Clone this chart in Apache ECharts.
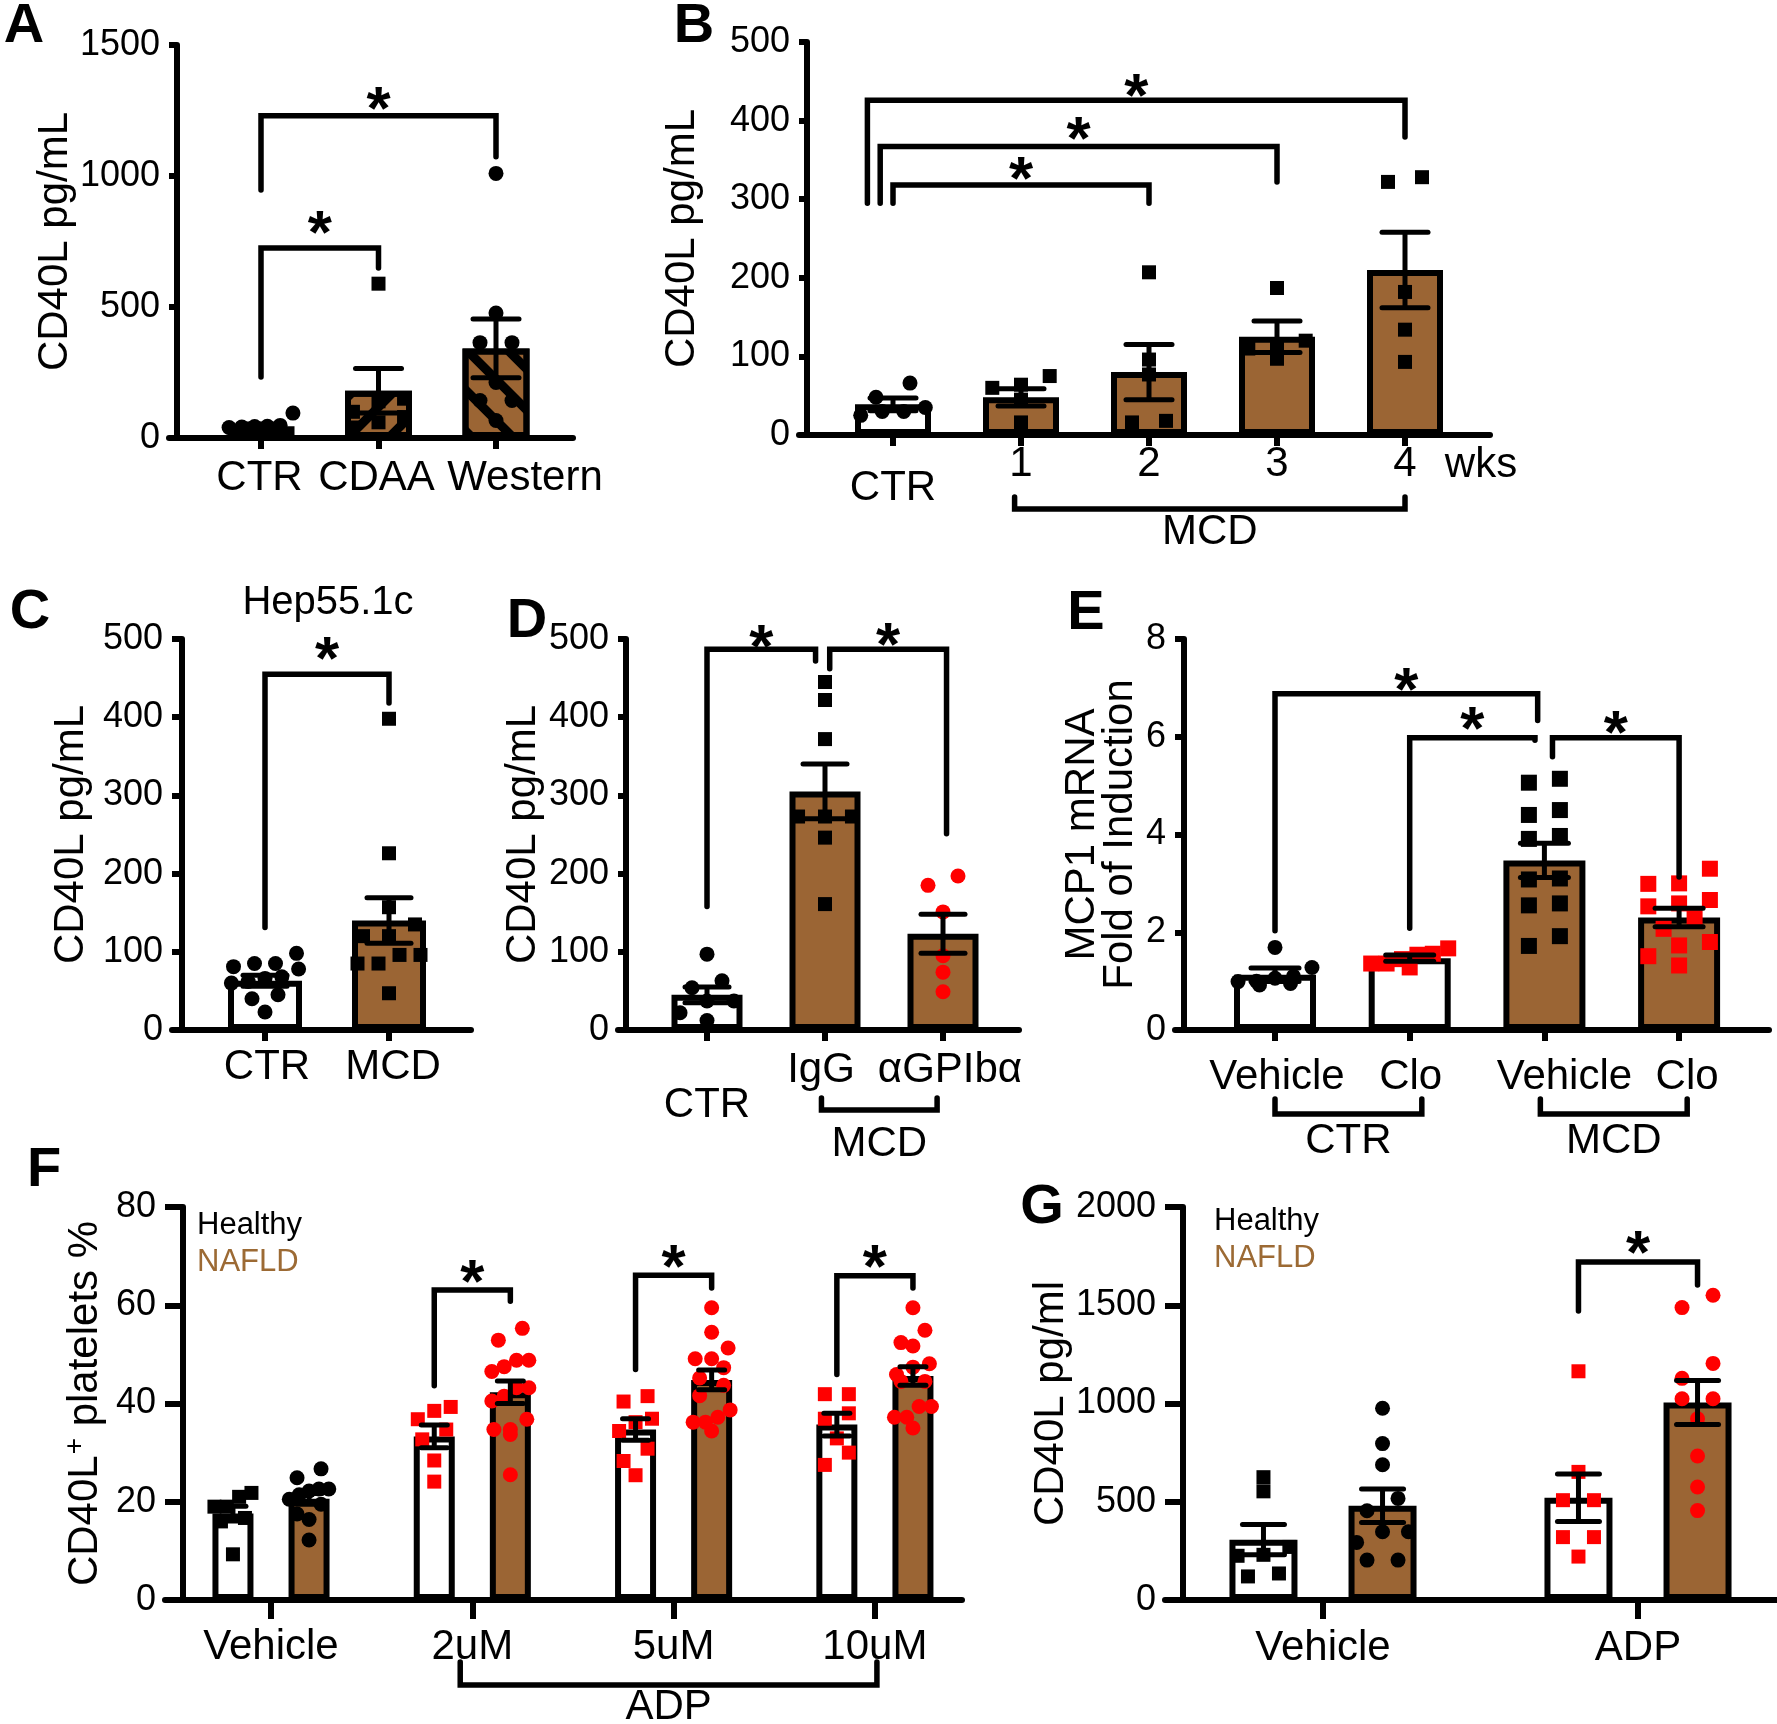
<!DOCTYPE html>
<html><head><meta charset="utf-8">
<script src="https://cdn.jsdelivr.net/npm/echarts@6/dist/echarts.min.js"></script>
<style>html,body{margin:0;padding:0;background:#fff}#c{width:1777px;height:1724px}</style>
</head><body><div id="c"></div><script>
// ================= DATA =================
// Panel A
const A_categories = ['CTR', 'CDAA', 'Western'];
const A_means = [45, 180, 342];
const A_sems = [8, 85, 112];
const A_ctr = [95, 48, 45, 44, 42, 40, 30];
const A_cdaa = [589, 150, 140, 100, 80, 60, 40];
const A_western = [1010, 477, 364, 364, 212, 143, 143, 67];
const A_brackets = [[1, 233, 2, 649, 725, 824], [1, 947, 3, 1073, 1230, 1295]];
// Panel B
const B_categories = ['CTR', '1', '2', '3', '4'];
const B_means = [39, 48, 80, 125, 210];
const B_sems = [8, 11, 35, 20, 48];
const B_ctr = [66, 48, 35, 30, 30, 25];
const B_wk1 = [75, 64, 60, 45, 16];
const B_wk2 = [207, 96, 77, 18, 16];
const B_wk3 = [187, 120, 113, 110, 97];
const B_wk4 = [328, 322, 182, 134, 93];
const B_brackets = [[1.0, 295, 3, 295, 318, 339], [0.9, 295, 4, 322, 367, 390], [0.8, 295, 5, 379, 426, 445]];
const B_groupSpan = [[1.95, 5, 'MCD']];
// Panel C
const C_categories = ['CTR', 'MCD'];
const C_means = [63, 140];
const C_sems = [7, 29];
const C_ctr = [98, 85, 85, 81, 78, 68, 66, 62, 60, 45, 40, 23];
const C_mcd = [398, 226, 157, 135, 120, 120, 96, 96, 85, 85, 47];
const C_brackets = [[1, 131, 2, 418, 455, 488]];
// Panel D
const D_categories = ['CTR', 'IgG', 'αGPIbα'];
const D_means = [45, 305, 123];
const D_sems = [10, 35, 25];
const D_ctr = [97, 63, 54, 37, 37, 22, 12];
const D_igg = [445, 422, 372, 273, 273, 273, 246, 161];
const D_agp = [197, 185, 151, 95, 74, 49];
const D_brackets = [[1, 158, 1.92, 472, 487, 504], [2.04, 462, 3.03, 251, 487, 506]];
const D_groupSpan = [[1.97, 2.95, 'MCD']];
// Panel E
const E_categories = ['Vehicle', 'Clo', 'Vehicle', 'Clo'];
const E_means = [1.13, 1.47, 3.47, 2.3];
const E_sems = [0.14, 0.065, 0.35, 0.19];
const E_vehCtr = [1.69, 1.28, 1.1, 1.06, 1.0, 0.99, 0.95, 0.92];
const E_cloCtr = [1.67, 1.56, 1.54, 1.45, 1.36, 1.36, 1.28];
const E_vehMcd = [5.14, 5.06, 4.5, 4.4, 3.97, 3.91, 3.1, 3.08, 2.59, 2.55, 1.92, 1.72];
const E_cloMcd = [3.3, 3.0, 2.99, 2.66, 2.59, 2.53, 2.29, 2.07, 1.8, 1.73, 1.51, 1.32];
const E_brackets = [[1, 2.03, 2.95, 6.33, 6.88, 7.17], [2, 2.08, 2.93, 5.93, 5.98, 6.37], [3.06, 5.59, 4, 3.13, 5.98, 6.29]];
const E_groupSpan = [[1, 2.09, 'CTR'], [2.97, 4.06, 'MCD']];
// Panel F
const F_groups = ['Vehicle', '2uM', '5uM', '10uM'];
const F_healthyMeans = [17.6, 33.3, 34.7, 35.7];
const F_healthySems = [1.5, 2.3, 2.2, 2.3];
const F_nafldMeans = [20.6, 42.3, 44.8, 45.6];
const F_nafldSems = [1.1, 2.3, 2.0, 1.9];
const F_healthyPoints = [
  [21.8, 21, 19, 19, 16.7, 16, 9.3],
  [39.3, 38.5, 36.8, 34.7, 32.7, 28.4, 24.1],
  [41.5, 40.4, 36.9, 36.2, 34.4, 30.8, 28.3, 25.4],
  [41.9, 41.9, 38, 36.9, 32.9, 30, 27.5]];
const F_nafldPoints = [
  [26.7, 24.9, 22.6, 22.6, 22.2, 21.4, 20.5, 19.5, 17.5, 16.4, 12.2],
  [55.3, 52.9, 48.8, 48.8, 47.5, 46.5, 43.2, 43.2, 41.5, 40.5, 36.8, 34.7, 34.7, 33.7, 25.5],
  [59.5, 54.5, 51.3, 49.1, 49.1, 47.3, 45.2, 43.7, 41.6, 38.7, 37.2, 36.2, 36.2, 34.4],
  [59.5, 54.9, 52.4, 51.7, 48.1, 47.4, 45.9, 44.5, 44.5, 39.4, 39.4, 37.2, 37.2, 35]];
// [group, healthy drop, NAFLD drop, top, star]
const F_pairBrackets = [[2, 43.6, 60.8, 63.1, 67], [3, 46.9, 63.5, 66.1, 70], [4, 45.9, 63.5, 66, 70]];
const F_groupSpan = [[1.94, 4.01, 'ADP']];
// Panel G
const G_groups = ['Vehicle', 'ADP'];
const G_healthyMeans = [307, 520];
const G_healthySems = [77, 121];
const G_nafldMeans = [480, 1005];
const G_nafldSems = [85, 112];
const G_healthyPoints = [[625, 553, 270, 230, 225, 135, 120], [1164, 652, 508, 508, 320, 320, 221]];
const G_nafldPoints = [[976, 796, 688, 517, 454, 347, 347, 293, 203, 203], [1551, 1488, 1204, 1128, 1024, 1024, 922, 733, 575, 455]];
const G_pairBrackets = [[2, 1471, 1603, 1720, 1822]];

// ================= STYLE / LAYOUT =================
const BROWN = '#9B6534';
const BROWN_TEXT = '#9C6A34';
const RED = '#FF0000';
const FONT = '"Liberation Sans", Arial, Helvetica, sans-serif';
const AXW = 6, BW = 6, EW = 5, BRW = 5.5, STAR = 62;
const HATCH_FWD = {symbol: 'rect', symbolSize: 1, color: '#000', dashArrayX: [1, 0], dashArrayY: [9, 20], rotation: -Math.PI / 4};
const HATCH_BACK = {symbol: 'rect', symbolSize: 1, color: '#000', dashArrayX: [1, 0], dashArrayY: [9, 20], rotation: Math.PI / 4};

const option = {
  animation: false, backgroundColor: '#fff',
  textStyle: {fontFamily: FONT, color: '#000'},
  grid: [], xAxis: [], yAxis: [], series: [], graphic: []
};

function swarm(values, xc, pxX, pxY, size, maxStep, barOuter) {
  const idx = values.map((v, i) => i).sort((a, b) => values[b] - values[a]);
  const rows = []; let cur = null;
  for (const i of idx) {
    const py = values[i] * pxY;
    if (cur && cur.start - py < size) cur.items.push(i);
    else { cur = {start: py, items: [i]}; rows.push(cur); }
  }
  const out = [];
  rows.forEach(r => {
    const m = r.items.length;
    const st = Math.min(maxStep, barOuter * 1.05 / m);
    const sorted = r.items.slice().sort((a, b) => values[a] - values[b]);
    sorted.forEach((i, j) => out.push([xc + (j - (m - 1) / 2) * st / pxX, values[i]]));
  });
  return out;
}

function addPanel(p) {
  const gi = option.grid.length;
  const left = p.X0 - p.tickLen;
  const width = p.X1 - left, height = p.yZero - p.yTop;
  const s = p.spacing;
  const xmin = 1 - (p.cx1 - left) / s, xmax = 1 + (p.X1 - p.cx1) / s;
  const pxY = height / p.ymax;
  const ticks = p.labels.map((_, i) => i + 1);
  const labelVals = p.labels.map((_, i) => i + 1 + (p.labelShift ? p.labelShift[i] : 0) / s);
  const rich = {};
  p.labels.forEach((_, i) => {
    const top = (p.lowLabels && p.lowLabels.indexOf(i) >= 0) ? p.lowPad : 0;
    rich['l' + i] = {fontSize: 42, fontFamily: FONT, color: '#000', padding: [top, 0, 0, 0]};
  });
  option.grid.push({left: left, top: p.yTop, width: width, height: height, containLabel: false});
  option.xAxis.push({
    type: 'value', gridIndex: gi, min: xmin, max: xmax,
    axisLine: {show: true, onZero: false, lineStyle: {color: '#000', width: AXW}},
    axisTick: {show: true, customValues: ticks, length: p.xTickLen || 11, lineStyle: {color: '#000', width: AXW}},
    axisLabel: {
      show: true, customValues: labelVals, margin: p.labelMargin, fontSize: 42, color: '#000', fontFamily: FONT,
      showMinLabel: true, showMaxLabel: true, hideOverlap: false,
      formatter: v => {
        let bi = 0, bd = Infinity;
        labelVals.forEach((lv, i) => { const d = Math.abs(lv - v); if (d < bd) { bd = d; bi = i; } });
        return '{l' + bi + '|' + p.labels[bi] + '}';
      },
      rich: rich
    },
    splitLine: {show: false}
  });
  option.yAxis.push({
    type: 'value', gridIndex: gi, min: 0, max: p.ymax, interval: p.interval, offset: -p.tickLen,
    axisLine: {show: true, onZero: false, lineStyle: {color: '#000', width: AXW}},
    axisTick: {show: true, length: p.tickLen, lineStyle: {color: '#000', width: AXW}},
    axisLabel: {fontSize: 36, margin: p.tickLen + 9, color: '#000', fontFamily: FONT, formatter: v => String(v)},
    splitLine: {show: false},
    name: p.yName, nameLocation: 'middle', nameGap: p.nameGap, nameRotate: 90,
    nameTextStyle: Object.assign({fontSize: 42, color: '#000', fontFamily: FONT}, p.nameStyle || {})
  });
  // bars
  option.series.push({
    type: 'bar', xAxisIndex: gi, yAxisIndex: gi, barWidth: p.barOuter - BW, z: 2,
    data: p.bars.map(b => ({
      value: [b.x, b.mean],
      itemStyle: Object.assign({color: b.fill, borderColor: '#000', borderWidth: BW}, b.hatch ? {decal: b.hatch} : {})
    }))
  });
  // points
  p.points.forEach(g => {
    option.series.push({
      type: 'scatter', xAxisIndex: gi, yAxisIndex: gi, z: 3,
      symbol: g.symbol, symbolSize: g.size,
      itemStyle: {color: g.color, opacity: 1},
      data: swarm(g.values, g.x, s, pxY, g.size, p.maxStep, p.barOuter)
    });
  });
  // error bars (mean ± SEM)
  option.series.push({
    type: 'custom', xAxisIndex: gi, yAxisIndex: gi, z: 5, clip: false,
    data: p.bars.map(b => [b.x, b.mean, b.sem]),
    renderItem: (params, api) => {
      const x = api.value(0), m = api.value(1), e = api.value(2);
      const t = api.coord([x, m + e]), b = api.coord([x, m - e]);
      const hw = p.capHalf;
      const cap = {stroke: '#000', lineWidth: EW, lineCap: 'round'};
      return {type: 'group', children: [
        {type: 'line', shape: {x1: t[0], y1: t[1], x2: b[0], y2: b[1]}, style: {stroke: '#000', lineWidth: EW}},
        {type: 'line', shape: {x1: t[0] - hw, y1: t[1], x2: t[0] + hw, y2: t[1]}, style: cap},
        {type: 'line', shape: {x1: b[0] - hw, y1: b[1], x2: b[0] + hw, y2: b[1]}, style: cap}
      ]};
    }
  });
  // significance brackets
  option.series.push({
    type: 'custom', xAxisIndex: gi, yAxisIndex: gi, z: 6, clip: false,
    data: p.brackets,
    renderItem: (params, api) => {
      const xl = api.value(0), ylb = api.value(1), xr = api.value(2), yrb = api.value(3), yt = api.value(4), ys = api.value(5);
      const a = api.coord([xl, ylb]), b = api.coord([xl, yt]), c = api.coord([xr, yt]), d = api.coord([xr, yrb]);
      const st = api.coord([(xl + xr) / 2, ys]);
      return {type: 'group', children: [
        {type: 'polyline', shape: {points: [a, b, c, d]}, style: {stroke: '#000', lineWidth: BRW, fill: 'none', lineCap: 'round', lineJoin: 'miter'}},
        {type: 'text', style: {text: '*', x: st[0], y: st[1] + 0.22 * STAR, fontSize: STAR, fontWeight: 'bold', fontFamily: FONT, fill: '#000', align: 'center', verticalAlign: 'middle'}}
      ]};
    }
  });
  // group brackets below axis
  if (p.groupSpan) {
    option.series.push({
      type: 'custom', xAxisIndex: gi, yAxisIndex: gi, z: 6, clip: false,
      data: p.groupSpan.map(g => [g[0], g[1]]),
      renderItem: (params, api) => {
        const a = api.coord([api.value(0), 0]), b = api.coord([api.value(1), 0]);
        const yh = a[1] + p.gDy, yu = a[1] + p.gDyEnd;
        return {type: 'group', children: [
          {type: 'polyline', shape: {points: [[a[0], yu], [a[0], yh], [b[0], yh], [b[0], yu]]}, style: {stroke: '#000', lineWidth: BRW, fill: 'none', lineCap: 'round'}},
          {type: 'text', style: {text: p.groupSpan[params.dataIndex][2], x: (a[0] + b[0]) / 2, y: a[1] + p.gDyText, fontSize: 42, fontFamily: FONT, fill: '#000', align: 'center', verticalAlign: 'middle'}}
        ]};
      }
    });
  }
}

function cat(vals, x, symbol, color, size) { return {x: x, values: vals, symbol: symbol, color: color, size: size}; }
function bars(means, sems, fills, hatch) {
  return means.map((m, i) => ({x: i + 1, mean: m, sem: sems[i], fill: fills[i], hatch: hatch ? hatch[i] : null}));
}

// Panel A
addPanel({X0: 177, X1: 573, yTop: 45, yZero: 438, tickLen: 8, cx1: 261, spacing: 117.5, ymax: 1500, interval: 500,
  labels: A_categories, labelShift: [-1.5, -2, 29], labelMargin: 19, yName: 'CD40L pg/mL', nameGap: 100, barOuter: 73, capHalf: 23, maxStep: 32,
  bars: bars(A_means, A_sems, ['#fff', BROWN, BROWN], [null, HATCH_FWD, HATCH_BACK]),
  points: [cat(A_ctr, 1, 'circle', '#000', 15), cat(A_cdaa, 2, 'rect', '#000', 14), cat(A_western, 3, 'circle', '#000', 15)],
  brackets: A_brackets});
// Panel B
addPanel({X0: 807, X1: 1490, yTop: 42, yZero: 435, tickLen: 8, cx1: 893, spacing: 128, ymax: 500, interval: 100,
  labels: B_categories, lowLabels: [0], lowPad: 24, labelMargin: 8, yName: 'CD40L pg/mL', nameGap: 104, barOuter: 82, capHalf: 23, maxStep: 34,
  bars: bars(B_means, B_sems, ['#fff', BROWN, BROWN, BROWN, BROWN]),
  points: [cat(B_ctr, 1, 'circle', '#000', 15), cat(B_wk1, 2, 'rect', '#000', 14), cat(B_wk2, 3, 'rect', '#000', 14), cat(B_wk3, 4, 'rect', '#000', 14), cat(B_wk4, 5, 'rect', '#000', 14)],
  brackets: B_brackets, groupSpan: B_groupSpan, gDy: 74, gDyEnd: 62, gDyText: 97});
// Panel C
addPanel({X0: 182, X1: 471, yTop: 639, yZero: 1030, tickLen: 10, cx1: 265, spacing: 124, ymax: 500, interval: 100,
  labels: C_categories, labelShift: [2, 4], labelMargin: 16, yName: 'CD40L pg/mL', nameGap: 90, barOuter: 80, capHalf: 22, maxStep: 26,
  bars: bars(C_means, C_sems, ['#fff', BROWN]),
  points: [cat(C_ctr, 1, 'circle', '#000', 15), cat(C_mcd, 2, 'rect', '#000', 14)],
  brackets: C_brackets});
// Panel D
addPanel({X0: 626, X1: 1019, yTop: 639, yZero: 1030, tickLen: 8, cx1: 707, spacing: 118, ymax: 500, interval: 100,
  labels: D_categories, lowLabels: [0], lowPad: 35, labelShift: [0, -4, 7], labelMargin: 19, yName: 'CD40L pg/mL', nameGap: 82, barOuter: 77, capHalf: 22, maxStep: 30,
  bars: bars(D_means, D_sems, ['#fff', BROWN, BROWN]),
  points: [cat(D_ctr, 1, 'circle', '#000', 15), cat(D_igg, 2, 'rect', '#000', 14), cat(D_agp, 3, 'circle', RED, 15)],
  brackets: D_brackets, groupSpan: D_groupSpan, gDy: 80, gDyEnd: 68, gDyText: 114});
// Panel E
addPanel({X0: 1184, X1: 1769, yTop: 639, yZero: 1030, tickLen: 9, cx1: 1275, spacing: 134.7, ymax: 8, interval: 2,
  labels: E_categories, labelShift: [2, 1, 20, 8], labelMargin: 26, yName: 'MCP1 mRNA\nFold of Induction', nameGap: 45, nameStyle: {lineHeight: 38},
  barOuter: 88, capHalf: 24, maxStep: 31,
  bars: bars(E_means, E_sems, ['#fff', '#fff', BROWN, BROWN]),
  points: [cat(E_vehCtr, 1, 'circle', '#000', 15), cat(E_cloCtr, 2, 'rect', RED, 16), cat(E_vehMcd, 3, 'rect', '#000', 16), cat(E_cloMcd, 4, 'rect', RED, 16)],
  brackets: E_brackets, groupSpan: E_groupSpan, gDy: 84, gDyEnd: 69, gDyText: 111});

// Panels F and G (paired bars)
const PAIR_OFF = 0.189;
function pairPanel(p, hM, hS, nM, nS, hP, nP, pb) {
  const n = hM.length;
  const bl = [];
  for (let i = 0; i < n; i++) {
    bl.push({x: i + 1 - PAIR_OFF, mean: hM[i], sem: hS[i], fill: '#fff'});
    bl.push({x: i + 1 + PAIR_OFF, mean: nM[i], sem: nS[i], fill: BROWN});
  }
  const pts = [];
  for (let i = 0; i < n; i++) {
    const col = i === 0 ? '#000' : RED;
    pts.push(cat(hP[i], i + 1 - PAIR_OFF, 'rect', col, 14));
    pts.push(cat(nP[i], i + 1 + PAIR_OFF, 'circle', col, 15));
  }
  p.bars = bl; p.points = pts;
  p.brackets = pb.map(b => [b[0] - PAIR_OFF, b[1], b[0] + PAIR_OFF, b[2], b[3], b[4]]);
  addPanel(p);
}
pairPanel({X0: 183, X1: 962, yTop: 1207, yZero: 1600, tickLen: 18, xTickLen: 19, cx1: 271, spacing: 201.3, ymax: 80, interval: 20,
  labels: F_groups, labelMargin: 26,
  yName: '{a|CD40L}{s|+}{a| platelets %}', nameGap: 74,
  nameStyle: {rich: {a: {fontSize: 42, fontFamily: FONT, color: '#000'}, s: {fontSize: 28, fontFamily: FONT, color: '#000', padding: [0, 0, 20, 1]}}},
  barOuter: 47, capHalf: 13, maxStep: 24, groupSpan: F_groupSpan, gDy: 85, gDyEnd: 62, gDyText: 107},
  F_healthyMeans, F_healthySems, F_nafldMeans, F_nafldSems, F_healthyPoints, F_nafldPoints, F_pairBrackets);
pairPanel({X0: 1183, X1: 1776, yTop: 1207, yZero: 1600, tickLen: 18, xTickLen: 19, cx1: 1323, spacing: 315, ymax: 2000, interval: 500,
  labels: G_groups, labelMargin: 27, yName: 'CD40L pg/ml', nameGap: 106,
  barOuter: 74, capHalf: 21, maxStep: 31},
  G_healthyMeans, G_healthySems, G_nafldMeans, G_nafldSems, G_healthyPoints, G_nafldPoints, G_pairBrackets);

// ================= TEXT =================
function txt(t, x, y, size, opts) {
  option.graphic.push({type: 'text', x: x, y: y, z: 100, style: Object.assign({text: t, fontSize: size, fontFamily: FONT, fill: '#000', align: 'center', verticalAlign: 'middle'}, opts || {})});
}
[['A', 24, 27], ['B', 694, 27], ['C', 30, 613], ['D', 527, 622], ['E', 1086, 614], ['F', 44, 1171], ['G', 1042, 1208]]
  .forEach(l => txt(l[0], l[1], l[2], 56, {fontWeight: 'bold'}));
txt('Hep55.1c', 328, 603, 40);
txt('wks', 1481, 465, 42);
txt('Healthy', 197, 1225, 31, {align: 'left'});
txt('NAFLD', 197, 1262, 31, {align: 'left', fill: BROWN_TEXT});
txt('Healthy', 1214, 1221, 31, {align: 'left'});
txt('NAFLD', 1214, 1258, 31, {align: 'left', fill: BROWN_TEXT});

const chart = echarts.init(document.getElementById('c'), null, {renderer: 'canvas', width: 1777, height: 1724});
chart.setOption(option);
</script></body></html>
